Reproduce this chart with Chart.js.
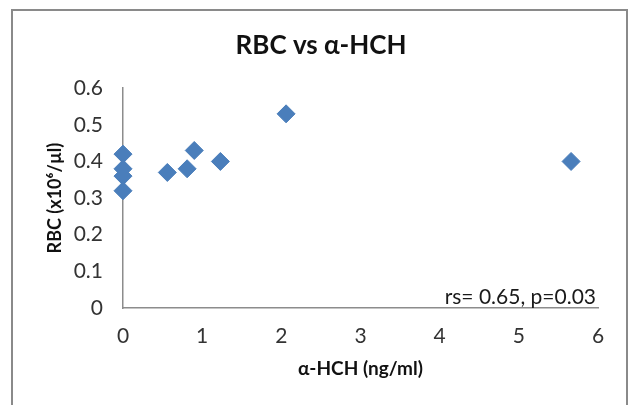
<!DOCTYPE html>
<html>
<head>
<meta charset="utf-8">
<script src="https://cdn.jsdelivr.net/npm/chart.js@4"></script>
<style>
  html, body { margin: 0; padding: 0; background: #fff; }
  #wrap { position: relative; width: 635px; height: 405px; }
</style>
</head>
<body>
<div id="wrap"><canvas id="myChart" width="635" height="405"></canvas></div>
<script>
// values
const hchValues = [0, 0, 0, 0, 0.56, 0.81, 0.9, 1.23, 2.06, 5.66];
const rbcValues = [0.42, 0.38, 0.36, 0.32, 0.37, 0.38, 0.43, 0.4, 0.53, 0.4];
const xTicks = [0, 1, 2, 3, 4, 5, 6];
const yTicks = [0, 0.1, 0.2, 0.3, 0.4, 0.5, 0.6];
const statText = "rs= 0.65, p=0.03";

const points = hchValues.map((x, i) => ({ x: x, y: rbcValues[i] }));

const frame = {
  id: "frame",
  beforeDraw(chart) {
    const c = chart.ctx;
    c.save();
    c.fillStyle = "#fff";
    c.fillRect(0, 0, chart.width, chart.height);
    c.strokeStyle = "#8a8a8a";
    c.lineWidth = 2;
    c.strokeRect(12, 10, 615, 420);
    c.restore();
  },
};

const statLabel = {
  id: "statLabel",
  afterDatasetsDraw(chart) {
    const c = chart.ctx;
    const a = chart.chartArea;
    c.save();
    c.font = "21px Lato";
    c.fillStyle = "#1a1a1a";
    c.textAlign = "right";
    c.textBaseline = "alphabetic";
    c.fillText(statText, a.right - 2, a.bottom - 4);
    c.restore();
  },
};

var ctx = document.getElementById("myChart").getContext("2d");
var myChart = new Chart(ctx, {
  type: "scatter",
  data: {
    datasets: [
      {
        label: "RBC",
        data: points,
        clip: false,
        pointStyle: "rectRot",
        pointRadius: 9,
        pointHoverRadius: 9,
        backgroundColor: "#4a7ebb",
        borderColor: "#4a7ebb",
        borderWidth: 1,
      },
    ],
  },
  options: {
    responsive: false,
    animation: false,
    layout: { padding: { top: 14, left: 44, right: 37, bottom: 25 } },
    plugins: {
      legend: { display: false },
      tooltip: { enabled: false },
      title: {
        display: true,
        text: "RBC vs α-HCH",
        color: "#111",
        font: { family: "Lato", size: 26, weight: "bold" },
        padding: { top: 16, bottom: 27 },
      },
    },
    scales: {
      x: {
        type: "linear",
        min: 0,
        max: 6,
        afterBuildTicks: (s) => { s.ticks = xTicks.map((v) => ({ value: v })); },
        afterFit: (s) => { s.height = 72; },
        grid: { display: false, drawTicks: false },
        border: { display: true, color: "#8c8c8c", width: 1.5 },
        ticks: { color: "#333", padding: 16, font: { family: "Lato", size: 21 } },
        title: {
          display: true,
          text: "α-HCH (ng/ml)",
          color: "#111",
          font: { family: "Lato", size: 19, weight: "bold" },
          padding: { top: 0, bottom: 0 },
        },
      },
      y: {
        type: "linear",
        min: 0,
        max: 0.6,
        afterBuildTicks: (s) => { s.ticks = yTicks.map((v) => ({ value: v })); },
        afterFit: (s) => { s.width = 79; },
        grid: { display: false, drawTicks: false },
        border: { display: true, color: "#8c8c8c", width: 1.5 },
        ticks: { color: "#333", padding: 20, font: { family: "Lato", size: 21 } },
        title: {
          display: true,
          text: "RBC (x10⁶/µl)",
          color: "#111",
          font: { family: "Lato", size: 18, weight: "bold" },
          padding: { top: 0, bottom: 0 },
        },
      },
    },
  },
  plugins: [frame, statLabel],
});
</script>
</body>
</html>
